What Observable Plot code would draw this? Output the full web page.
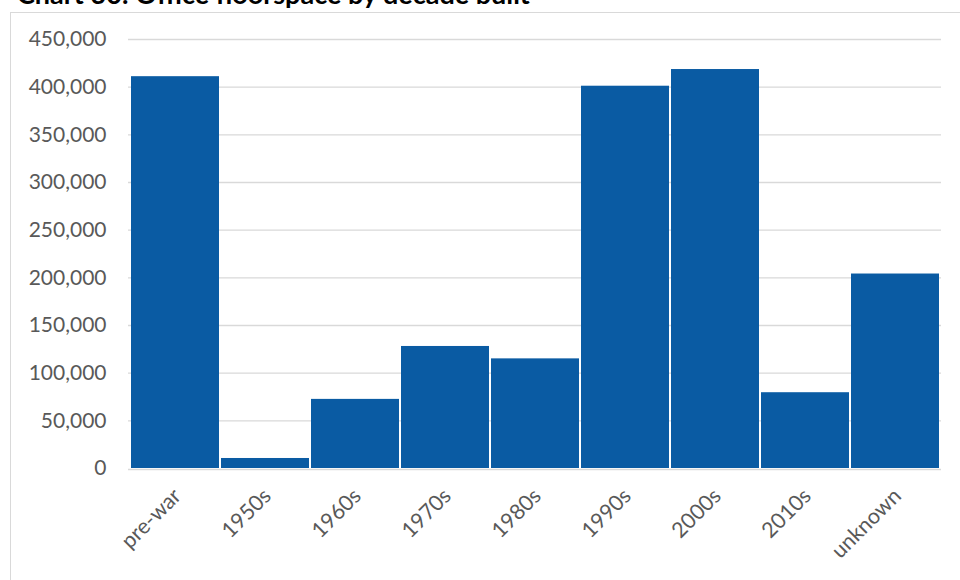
<!DOCTYPE html>
<html>
<head>
<meta charset="utf-8">
<script src="https://cdn.jsdelivr.net/npm/d3@7"></script>
<script src="https://cdn.jsdelivr.net/npm/@observablehq/plot@0.6"></script>
<style>
  html, body { margin: 0; padding: 0; background: #fff; overflow: hidden; }
  #wrap { position: relative; width: 960px; height: 580px; overflow: hidden; }
  #frame { position: absolute; left: 10px; top: 12px; width: 1000px; height: 620px; border: 1.5px solid #d9d9d9; box-sizing: border-box; }
  #title { position: absolute; left: 17px; top: -23px; font-family: Lato, "Open Sans", sans-serif; font-weight: bold; font-size: 27px; color: #000; white-space: nowrap; }
  #chart { position: absolute; left: 0; top: 0; }
</style>
</head>
<body>
<div id="wrap">
  <div id="frame"></div>
  <div id="title">Chart 30: Office floorspace by decade built</div>
  <div id="chart"></div>
</div>
<script>
const categories = ["pre-war", "1950s", "1960s", "1970s", "1980s", "1990s", "2000s", "2010s", "unknown"];
const floorspace = [411000, 10500, 72500, 128000, 115000, 401000, 418500, 79500, 204000];
const yTicks = [0, 50000, 100000, 150000, 200000, 250000, 300000, 350000, 400000, 450000];

const data = categories.map((c, i) => ({category: c, value: floorspace[i]}));
const fmt = d3.format(",");

const chart = Plot.plot({
  width: 960,
  height: 580,
  marginLeft: 128,
  marginRight: 19,
  marginTop: 39,
  marginBottom: 112,
  style: { fontFamily: "Lato, 'Open Sans', sans-serif", fontSize: "21px", color: "#595959", background: "transparent", overflow: "visible" },
  x: { domain: categories, paddingInner: 0.025, paddingOuter: 0, label: null },
  y: { domain: [0, 450000], label: null },
  marks: [
    Plot.ruleY(yTicks.filter(d => d > 0), { stroke: "#d9d9d9", strokeWidth: 1.4 }),
    Plot.barY(data, { x: "category", y: "value", fill: "#0a5ba3" }),
    Plot.ruleY([0], { stroke: "#d9d9d9", strokeWidth: 1.6, dy: 1 }),
    Plot.axisY({ ticks: yTicks, tickFormat: fmt, tickSize: 0, tickPadding: 22, fill: "#595959", fontSize: 21 }),
    Plot.axisX({ tickSize: 0, tickRotate: -45, tickPadding: 24, dx: 2, fill: "#595959", fontSize: 21.5 })
  ]
});
document.getElementById("chart").appendChild(chart);
</script>
</body>
</html>
